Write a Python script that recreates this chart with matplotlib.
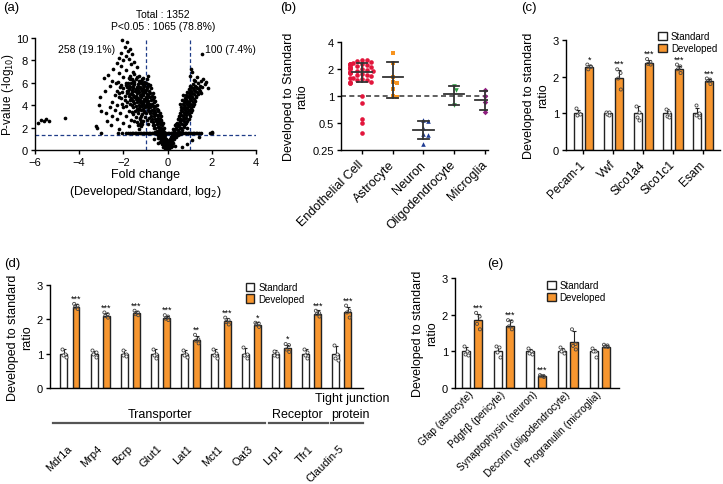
import numpy as np
import matplotlib
matplotlib.use("Agg")
import matplotlib.pyplot as plt
from matplotlib.patches import Patch
import matplotlib.transforms as mtransforms

plt.rcParams['font.family'] = ['Liberation Sans', 'DejaVu Sans']
plt.rcParams['axes.linewidth'] = 1.0
plt.rcParams['xtick.major.width'] = 1.0
plt.rcParams['ytick.major.width'] = 1.0

W, H = 723, 485
ORANGE = '#F7962F'
TICK = 8
LAB = 9

# ---------------- (a) volcano data ----------------
left_far = [(-5.85, 2.45), (-5.75, 2.7), (-5.6, 2.55), (-5.5, 2.75), (-5.35, 2.6), (-4.65, 2.85),
            (-3.25, 2.15), (-3.2, 2.0)]
left_sparse = [(-2.05, 9.85), (-1.85, 9.6), (-1.95, 9.2), (-1.7, 9.0), (-1.8, 8.8), (-2.1, 8.7), (-1.6, 8.6),
               (-1.9, 8.4), (-2.2, 8.2), (-1.75, 8.1), (-2.0, 8.0), (-1.5, 7.9), (-2.3, 7.8), (-1.65, 7.7),
               (-2.1, 7.5), (-1.4, 7.4), (-2.45, 7.2), (-1.9, 7.1), (-1.55, 7.0), (-2.2, 6.9), (-2.7, 6.7),
               (-1.3, 6.6), (-2.0, 6.5), (-2.9, 6.4), (-1.7, 6.3), (-2.5, 6.2), (-1.2, 6.2), (-2.35, 6.0),
               (-1.9, 5.95), (-1.5, 5.9), (-2.1, 5.8), (-1.1, 5.8), (-2.6, 5.7), (-1.75, 5.7), (-1.3, 5.6),
               (-2.0, 5.5), (-1.55, 5.5), (-1.05, 5.4), (-2.85, 5.3), (-1.85, 5.3), (-1.4, 5.2), (-2.2, 5.1),
               (-1.65, 5.0), (-1.15, 5.0), (-3.05, 4.7), (-2.4, 4.9), (-1.95, 4.8), (-1.45, 4.8), (-1.0, 4.7),
               (-2.1, 4.6), (-1.7, 4.5), (-1.25, 4.5), (-2.5, 4.3), (-1.85, 4.3), (-1.5, 4.2), (-1.1, 4.2),
               (-3.1, 4.0), (-2.3, 4.0), (-1.6, 4.0), (-1.2, 3.9), (-2.6, 3.8), (-2.0, 3.8), (-1.4, 3.7),
               (-3.0, 3.5), (-2.4, 3.6), (-1.75, 3.5), (-1.05, 3.5), (-2.8, 3.3), (-2.15, 3.3), (-1.55, 3.2),
               (-2.5, 3.0), (-1.9, 3.0), (-1.2, 3.0), (-2.3, 2.8), (-1.65, 2.7), (-2.75, 2.6), (-1.4, 2.5),
               (-2.0, 2.4), (-1.15, 2.3), (-2.55, 2.2), (-1.75, 2.1), (-1.3, 1.9), (-2.2, 1.9), (-1.1, 2.6),
               (-1.15, 3.2)]
left_blob = [(-1.75, 6.4), (-1.6, 6.3), (-1.45, 6.35), (-1.3, 6.2), (-1.15, 6.3), (-1.05, 6.1),
             (-1.8, 6.0), (-1.65, 5.95), (-1.5, 6.05), (-1.35, 5.9), (-1.2, 5.95), (-1.05, 5.85), (-0.9, 5.9),
             (-1.85, 5.65), (-1.7, 5.6), (-1.55, 5.7), (-1.4, 5.6), (-1.25, 5.65), (-1.1, 5.55), (-0.95, 5.6),
             (-1.8, 5.3), (-1.62, 5.35), (-1.48, 5.25), (-1.32, 5.35), (-1.18, 5.3), (-1.02, 5.2),
             (-1.72, 5.0), (-1.55, 4.95), (-1.4, 5.05), (-1.25, 4.95), (-1.1, 4.9), (-0.95, 5.0),
             (-1.65, 4.65), (-1.5, 4.7), (-1.35, 4.6), (-1.2, 4.7), (-1.05, 4.55),
             (-1.55, 4.35), (-1.4, 4.3), (-1.25, 4.25), (-1.12, 4.35),
             (-1.45, 3.95), (-1.3, 4.0), (-1.15, 3.9), (-1.02, 3.8),
             (-1.35, 3.6), (-1.2, 3.55), (-1.08, 3.4),
             (-1.25, 2.9), (-1.22, 2.6), (-1.24, 2.3), (-1.21, 2.1), (-1.26, 2.75), (-1.2, 2.45)]
left_extra = [(-2.25, 6.1), (-2.15, 5.6), (-2.3, 5.3), (-2.05, 5.2), (-2.2, 4.75), (-1.95, 4.5), (-2.05, 4.15),
              (-1.9, 3.9), (-1.7, 4.15), (-1.58, 3.8), (-1.48, 3.5), (-1.62, 3.35), (-1.35, 3.3), (-1.42, 2.95),
              (-1.5, 2.6), (-1.35, 2.25), (-1.38, 5.45), (-1.22, 5.45), (-1.08, 5.7), (-0.98, 5.35),
              (-1.12, 5.1), (-1.3, 5.15), (-1.45, 5.45), (-1.6, 5.15), (-1.75, 5.45), (-1.9, 5.8),
              (-1.55, 6.15), (-1.25, 6.1), (-1.38, 6.5), (-1.1, 6.45), (-1.68, 6.65), (-1.5, 6.8),
              (-1.02, 4.45), (-0.92, 4.2), (-1.18, 4.1), (-1.32, 4.45), (-1.45, 4.55), (-1.6, 4.5),
              (-1.75, 4.8), (-1.85, 5.05), (-1.05, 4.05), (-0.88, 3.6), (-0.98, 3.3), (-1.12, 3.7),
              (-1.28, 3.75), (-0.75, 2.6), (-0.82, 2.9), (-0.68, 2.2), (-0.62, 1.95), (-0.55, 1.6),
              (-0.48, 1.45), (-0.42, 1.1), (-0.35, 0.75), (-0.27, 0.55), (-0.22, 0.3), (-0.13, 0.15),
              (-0.03, 0.25), (0.0, 0.4), (-0.1, 0.6), (-0.02, 0.7), (-0.05, 0.95), (-0.12, 1.3),
              (-0.15, 1.6), (-0.2, 1.65), (-0.18, 2.0), (-0.22, 2.4), (-0.28, 2.65), (-0.32, 3.0),
              (-0.36, 3.3), (-0.42, 3.6), (-0.48, 4.0), (-0.55, 4.35), (-0.6, 4.7), (-0.68, 5.05),
              (-0.75, 5.5), (-0.8, 5.8), (-0.9, 6.6), (-0.88, 2.35), (-0.95, 2.7), (-1.02, 2.95),
              (-0.78, 3.45), (-0.85, 4.15), (-0.72, 4.0), (-0.62, 3.8), (-0.68, 3.55), (-0.58, 3.2),
              (-0.5, 2.75), (-0.42, 2.45), (-0.38, 2.05), (-0.32, 1.75), (-0.26, 1.4), (-0.2, 1.15),
              (-0.13, 0.95)]
left_arm = [(-0.05, 0.1), (0.02, 0.05), (-0.1, 0.2), (0.05, 0.15),
            (-0.15, 0.4), (-0.08, 0.35), (-0.2, 0.5), (-0.04, 0.45),
            (-0.25, 0.75), (-0.12, 0.7), (-0.18, 0.85), (-0.3, 0.9), (-0.07, 0.8),
            (-0.35, 1.05), (-0.22, 1.0), (-0.14, 1.1), (-0.28, 1.2), (-0.4, 1.25),
            (-0.18, 1.35), (-0.33, 1.4), (-0.45, 1.35), (-0.25, 1.5),
            (-0.5, 1.7), (-0.38, 1.75), (-0.22, 1.8), (-0.3, 1.95), (-0.55, 2.0), (-0.42, 2.05),
            (-0.25, 2.2), (-0.6, 2.25), (-0.48, 2.3), (-0.35, 2.35), (-0.65, 2.5), (-0.3, 2.5), (-0.52, 2.55),
            (-0.4, 2.6), (-0.7, 2.75), (-0.58, 2.8), (-0.35, 2.8), (-0.45, 2.9), (-0.75, 3.0), (-0.62, 3.05),
            (-0.5, 3.1), (-0.4, 3.15), (-0.8, 3.3), (-0.68, 3.3), (-0.55, 3.35), (-0.45, 3.45), (-0.85, 3.5),
            (-0.72, 3.55), (-0.6, 3.6), (-0.5, 3.7), (-0.9, 3.8), (-0.78, 3.85), (-0.65, 3.9), (-0.55, 3.95),
            (-0.95, 4.05), (-0.82, 4.1), (-0.7, 4.15), (-0.6, 4.25), (-1.0, 4.35), (-0.88, 4.4), (-0.75, 4.45),
            (-0.65, 4.55), (-0.95, 4.65), (-0.8, 4.7), (-0.7, 4.85), (-0.9, 4.95), (-0.78, 5.1), (-0.85, 5.3),
            (-0.95, 5.5), (-0.88, 5.75), (-0.98, 6.0), (-0.92, 6.3)]
right_arm = [(0.03, 0.1), (0.08, 0.3), (0.04, 0.5), (0.12, 0.45), (0.18, 0.6), (0.09, 0.7), (0.22, 0.8),
             (0.15, 0.9), (0.3, 0.95), (0.1, 1.0), (0.25, 1.1), (0.38, 1.15), (0.18, 1.25), (0.45, 1.3),
             (0.3, 1.35), (0.55, 1.4), (0.22, 1.45), (0.4, 1.5), (0.62, 1.55), (0.3, 1.7), (0.48, 1.75),
             (0.65, 1.8), (0.25, 1.9), (0.4, 1.95), (0.55, 2.0), (0.75, 2.05), (0.88, 2.0), (0.33, 2.2),
             (0.5, 2.25), (0.65, 2.3), (0.8, 2.3), (0.42, 2.45), (0.58, 2.5), (0.72, 2.55), (0.9, 2.55),
             (0.45, 2.75), (0.6, 2.8), (0.75, 2.85), (0.95, 2.8), (0.52, 3.0), (0.68, 3.05), (0.85, 3.1),
             (1.02, 3.05), (0.55, 3.3), (0.72, 3.3), (0.88, 3.35), (1.05, 3.35), (0.6, 3.55), (0.78, 3.6),
             (0.95, 3.6), (1.12, 3.6), (0.62, 3.85), (0.8, 3.85), (0.98, 3.9), (1.15, 3.9), (0.7, 4.1),
             (0.86, 4.15), (1.02, 4.15), (1.2, 4.1), (0.72, 4.4), (0.9, 4.4), (1.08, 4.45), (1.25, 4.4),
             (0.78, 4.65), (0.95, 4.7), (1.12, 4.7), (1.3, 4.7), (0.82, 4.95), (1.0, 4.95), (1.18, 5.0),
             (1.38, 5.0), (0.88, 5.2), (1.05, 5.25), (1.25, 5.25), (1.45, 5.3), (0.95, 5.45), (1.15, 5.5),
             (1.35, 5.5), (1.02, 5.7), (1.22, 5.75), (1.45, 5.7)]
right_extra = [(0.06, 0.2), (0.14, 0.25), (0.2, 0.4), (0.26, 0.6), (0.06, 0.85), (0.14, 1.15), (0.32, 1.25),
               (0.2, 1.55), (0.5, 1.6), (0.35, 1.85), (0.62, 1.95), (0.45, 2.1), (0.72, 2.2), (0.38, 2.35),
               (0.55, 2.6), (0.82, 2.45), (0.68, 2.7), (0.5, 2.9), (0.85, 2.9), (0.62, 3.15), (0.78, 3.2),
               (0.95, 3.2), (0.65, 3.45), (0.85, 3.5), (1.02, 3.5), (0.7, 3.75), (0.9, 3.75), (1.08, 3.75),
               (0.75, 4.0), (0.93, 4.0), (1.12, 4.0), (0.8, 4.28), (0.98, 4.28), (1.15, 4.3), (0.85, 4.55),
               (1.02, 4.55), (1.2, 4.55), (0.9, 4.82), (1.08, 4.85), (1.28, 4.85), (0.95, 5.1), (1.12, 5.12),
               (1.32, 5.15), (1.0, 5.35), (1.2, 5.4), (1.42, 5.45), (1.08, 5.6), (1.3, 5.62), (1.15, 5.9),
               (1.38, 5.95), (1.25, 6.15), (0.98, 4.0), (1.5, 5.1), (1.55, 5.6), (0.58, 4.1), (0.65, 4.5),
               (0.7, 4.9)]
right_sparse = [(1.55, 8.6), (1.05, 7.2), (1.1, 6.95), (1.0, 6.6), (1.35, 6.5), (1.6, 6.35), (1.75, 6.05),
                (1.85, 5.55), (1.5, 6.15), (1.2, 6.25), (1.7, 5.85), (1.9, 1.55), (2.02, 1.5), (2.0, 1.6),
                (0.9, 0.5), (0.65, 0.3), (1.1, 0.9), (-0.45, 0.6), (-0.6, 1.0), (1.4, 1.2), (0.35, 0.4)]
floor_y = 1.55
floor_x = [-3.0, -2.25, -2.05, -1.9, -1.8, -1.7, -1.62, -1.55, -1.48, -1.41, -1.34, -1.27, -1.2, -1.13,
           -1.06, -0.99, -0.92, -0.85, -0.78, -0.71, -0.64, -0.57, -0.5, -0.43, -0.36, -0.29, -0.22, -0.15,
           -0.08, 0.0, 0.08, 0.15, 0.22, 0.29, 0.36, 0.43, 0.5, 0.57, 0.64, 0.71, 0.78, 0.85, 0.92, 0.99,
           1.06, 1.13, 1.2, 1.27, 1.34, 1.42, 1.5]

# ---------------- (b) cell type ratios ----------------
cell_types = ['Endothelial Cell', 'Astrocyte', 'Neuron', 'Oligodendrocyte', 'Microglia']
endo_vals = [2.55, 2.45, 2.4, 2.35, 2.3, 2.3, 2.25, 2.2, 2.2, 2.15, 2.1, 2.1, 2.05, 2.0, 2.0, 1.95, 1.9,
             1.9, 1.85, 1.8, 1.8, 1.75, 1.7, 1.7, 1.65, 1.6, 1.6, 1.55, 1.5, 1.5, 1.45, 1.45, 1.4, 1.4,
             2.5, 2.25, 2.05, 1.85, 1.0, 0.83, 0.56, 0.5, 0.39]
astro_vals = [3.0, 2.35, 1.62, 1.42, 1.4, 1.2, 1.0, 0.98]
neuron_vals = [0.54, 0.53, 0.44, 0.38, 0.37, 0.29]
oligo_vals = [1.3, 1.17, 0.8]
micro_vals = [1.17, 1.0, 0.85, 0.66]
cell_mean = [1.87, 1.64, 0.42, 1.05, 0.91]
cell_low = [1.42, 0.94, 0.33, 0.8, 0.7]
cell_high = [2.35, 2.37, 0.52, 1.3, 1.13]

# ---------------- (c) endothelial markers ----------------
c_genes = ['Pecam-1', 'Vwf', 'Slco1a4', 'Slco1c1', 'Esam']
c_std_mean = [1.0, 1.0, 1.0, 1.0, 1.0]
c_std_sd = [0.1, 0.04, 0.2, 0.12, 0.15]
c_dev_mean = [2.27, 1.97, 2.38, 2.2, 1.88]
c_dev_sd = [0.06, 0.22, 0.07, 0.1, 0.05]
c_std_pts = [[1.15, 1.0, 0.95, 0.97], [1.05, 1.03, 0.98, 0.95], [1.2, 1.05, 0.9, 0.82],
             [1.13, 1.05, 0.92, 0.9], [1.22, 1.02, 0.95, 0.9]]
c_dev_pts = [[2.33, 2.28, 2.2, 2.27], [2.2, 2.1, 1.95, 1.65], [2.48, 2.4, 2.35, 2.33],
             [2.33, 2.28, 2.2, 2.1], [1.95, 1.92, 1.88, 1.8]]
c_stars = ['*', '***', '***', '***', '***']

# ---------------- (d) transporters etc ----------------
d_genes = ['Mdr1a', 'Mrp4', 'Bcrp', 'Glut1', 'Lat1', 'Mct1', 'Oat3', 'Lrp1', 'Tfr1', 'Claudin-5']
d_std_mean = [1.0] * 10
d_std_sd = [0.13, 0.08, 0.12, 0.15, 0.12, 0.13, 0.17, 0.1, 0.15, 0.22]
d_dev_mean = [2.37, 2.1, 2.18, 2.05, 1.4, 1.95, 1.84, 1.17, 2.16, 2.22]
d_dev_sd = [0.08, 0.07, 0.05, 0.06, 0.12, 0.08, 0.07, 0.08, 0.1, 0.15]
d_std_pts = [[1.15, 1.0, 0.95, 0.9], [1.1, 1.05, 0.98, 0.9], [1.12, 1.0, 0.97, 0.92], [1.15, 1.0, 0.95, 0.88],
             [1.12, 1.0, 0.95, 0.9], [1.15, 1.02, 0.95, 0.88], [1.18, 1.0, 0.95, 0.88], [1.08, 1.02, 0.97, 0.93],
             [1.15, 1.05, 0.95, 0.87], [1.25, 1.0, 0.88, 0.82]]
d_dev_pts = [[2.45, 2.4, 2.35, 2.3], [2.2, 2.15, 2.1, 2.05], [2.25, 2.2, 2.15, 2.12], [2.12, 2.08, 2.02, 1.98],
             [1.55, 1.42, 1.38, 1.3], [2.05, 1.98, 1.92, 1.85], [1.9, 1.88, 1.85, 1.78], [1.28, 1.25, 1.12, 1.05],
             [2.25, 2.18, 2.15, 2.08], [2.4, 2.25, 2.2, 2.05]]
d_stars = ['***', '***', '***', '***', '**', '***', '*', '*', '***', '***']
# group name, text centre, line start, line end
d_groups = [('Transporter', 2.98, -0.56, 6.46), ('Receptor', 7.52, 6.59, 8.54), ('protein', 9.27, 8.64, 9.7)]
d_group_top = ('Tight junction', 9.34)

# ---------------- (e) cell markers ----------------
e_genes = ['Gfap (astrocyte)', 'Pdgfr\u03b2 (pericyte)', 'Synaptophysin (neuron)',
           'Decorin (oligodendrocyte)', 'Progranulin (microglia)']
e_std_mean = [1.0] * 5
e_std_sd = [0.12, 0.12, 0.06, 0.1, 0.07]
e_dev_mean = [1.85, 1.7, 0.32, 1.25, 1.12]
e_dev_sd = [0.17, 0.15, 0.03, 0.3, 0.04]
e_std_pts = [[1.15, 1.0, 0.92, 0.9], [1.15, 1.12, 0.97, 0.85], [1.1, 1.0, 0.95, 0.93],
             [1.12, 1.05, 1.0, 0.95], [1.08, 1.02, 1.0, 0.85]]
e_dev_pts = [[2.05, 1.95, 1.75, 1.6], [1.85, 1.82, 1.68, 1.6], [0.35, 0.33, 0.32, 0.3],
             [1.6, 1.2, 1.15, 1.05], [1.18, 1.16, 1.13, 1.12]]
e_stars = ['***', '***', '***', '', '']


fig = plt.figure(figsize=(W / 100, H / 100), dpi=100)


def px_axes(l, t, r, b):
    return fig.add_axes([l / W, 1 - b / H, (r - l) / W, (b - t) / H])


def clean(ax):
    ax.spines['top'].set_visible(False)
    ax.spines['right'].set_visible(False)
    ax.tick_params(labelsize=TICK, length=3, pad=2)


def bar_panel(ax, std_mean, std_sd, dev_mean, dev_sd, std_pts, dev_pts, stars, off, width):
    n = len(std_mean)
    x = np.arange(n)
    jit = [-0.06, 0.05, -0.03, 0.06]
    ax.bar(x - off, std_mean, width, color='white', edgecolor='#222222', linewidth=1.0, zorder=2)
    ax.bar(x + off, dev_mean, width, color=ORANGE, edgecolor='#222222', linewidth=1.0, zorder=2)
    ax.errorbar(x - off, std_mean, yerr=[[0] * n, std_sd], fmt='none', ecolor='#222222',
                elinewidth=0.8, capsize=1.5, capthick=0.8, zorder=3)
    ax.errorbar(x + off, dev_mean, yerr=[[0] * n, dev_sd], fmt='none', ecolor='#222222',
                elinewidth=0.8, capsize=1.5, capthick=0.8, zorder=3)
    for i in range(n):
        ax.scatter([x[i] - off + j for j in jit], std_pts[i], s=5, facecolor='white',
                   edgecolor='#444444', linewidth=0.6, zorder=4)
        ax.scatter([x[i] + off + j for j in jit], dev_pts[i], s=5, facecolor='none',
                   edgecolor='#444444', linewidth=0.6, zorder=4)
        top = max(dev_mean[i] + dev_sd[i], max(dev_pts[i]))
        if stars[i]:
            ax.text(x[i] + off, top + 0.03, stars[i], ha='center', va='bottom', fontsize=6.5)
    ax.set_ylim(0, 3)
    ax.set_yticks([0, 1, 2, 3])
    clean(ax)
    return x


def add_legend(ax, bx, by):
    handles = [Patch(facecolor='white', edgecolor='#222222', label='Standard'),
               Patch(facecolor=ORANGE, edgecolor='#222222', label='Developed')]
    ax.legend(handles=handles, loc='upper left', bbox_to_anchor=(bx, by), frameon=False, fontsize=7,
              handlelength=0.9, handleheight=0.9, handletextpad=0.4, labelspacing=0.2, borderaxespad=0,
              borderpad=0)


# ---------------- draw (a) ----------------
axa = px_axes(35, 39, 256, 151)
pts = left_far + left_sparse + left_blob + left_extra + left_arm + right_arm + right_extra + right_sparse
axa.scatter([p[0] for p in pts], [p[1] for p in pts], s=7, color='black', linewidths=0, zorder=3)
axa.scatter(floor_x, [floor_y] * len(floor_x), s=7, color='black', linewidths=0, zorder=3)
axa.plot([-1.62, 1.5], [floor_y, floor_y], color='black', lw=1.8, zorder=3)
axa.axhline(1.3, color='#1F3C88', ls=(0, (3, 2)), lw=0.9, zorder=2)
axa.axvline(-1, color='#1F3C88', ls=(0, (3, 2)), lw=0.9, zorder=2)
axa.axvline(1, color='#1F3C88', ls=(0, (3, 2)), lw=0.9, zorder=2)
axa.set_xlim(-6, 4)
axa.set_ylim(0, 10)
axa.set_xticks([-6, -4, -2, 0, 2, 4])
axa.set_yticks([0, 2, 4, 6, 8, 10])
clean(axa)
axa.set_xlabel('Fold change\n(Developed/Standard, log$_2$)', fontsize=LAB, labelpad=1)
axa.set_ylabel('P-value (-log$_{10}$)', fontsize=8.5)
axa.yaxis.set_label_coords(-0.085, 0.5)
axa.text(-3.68, 9.0, '258 (19.1%)', ha='center', va='center', fontsize=7.5)
axa.text(1.68, 9.0, '100 (7.4%)', ha='left', va='center', fontsize=7.5)
fig.text(163 / W, 1 - 15 / H, 'Total : 1352', ha='center', va='center', fontsize=7.5)
fig.text(163 / W, 1 - 27 / H, 'P<0.05 : 1065 (78.8%)', ha='center', va='center', fontsize=7.5)

# ---------------- draw (b) ----------------
axb = px_axes(341, 43, 488, 151)
axb.set_yscale('log', base=2)
axb.set_ylim(0.25, 4)
axb.set_xlim(-0.68, 4.1)
xu, yu = 30.7, 27.0  # px per x unit and per log2 unit


def swarm(vals, d=4.2):
    order = np.argsort(vals)[::-1]
    placed = []
    offs = np.zeros(len(vals))
    for i in order:
        yy = np.log2(vals[i]) * yu
        for k in [0, 1, -1, 2, -2, 3, -3, 4, -4, 5, -5]:
            xx = k * d * 0.55
            if all((xx - px) ** 2 + (yy - py) ** 2 >= d * d for px, py in placed):
                break
        placed.append((xx, yy))
        offs[i] = xx / xu
    return offs


groups_b = [endo_vals, astro_vals, neuron_vals, oligo_vals, micro_vals]
colors_b = ['#E2163C', '#F7931E', '#1F3C93', '#2E9E41', '#8E1F7E']
markers_b = ['o', 's', '^', 'v', 'D']
sizes_b = [11, 11, 11, 11, 8]
for i, vals in enumerate(groups_b):
    off = swarm(vals)
    axb.scatter(i + off, vals, s=sizes_b[i], marker=markers_b[i], color=colors_b[i], linewidths=0, zorder=3)
    axb.plot([i - 0.33, i + 0.33], [cell_mean[i]] * 2, color='#333333', lw=1.3, zorder=4)
    axb.plot([i, i], [cell_low[i], cell_high[i]], color='#333333', lw=1.3, zorder=4)
    axb.plot([i - 0.17, i + 0.17], [cell_low[i]] * 2, color='#333333', lw=1.3, zorder=4)
    axb.plot([i - 0.17, i + 0.17], [cell_high[i]] * 2, color='#333333', lw=1.3, zorder=4)
axb.axhline(1, color='#444444', ls=(0, (3, 2)), lw=1.2, zorder=2)
axb.set_yticks([0.25, 0.5, 1, 2, 4])
axb.set_yticklabels(['0.25', '0.5', '1', '2', '4'])
axb.minorticks_off()
axb.set_xticks(range(5))
clean(axb)
axb.set_xticklabels(cell_types, rotation=45, ha='right', va='center', rotation_mode='anchor', fontsize=9)
axb.tick_params(axis='x', pad=6)
axb.set_ylabel('Developed to Standard\nratio', fontsize=LAB, labelpad=3)

# ---------------- draw (c) ----------------
axc = px_axes(566, 41, 720, 151)
xc = bar_panel(axc, c_std_mean, c_std_sd, c_dev_mean, c_dev_sd, c_std_pts, c_dev_pts, c_stars, 0.19, 0.27)
axc.set_xlim(-0.585, 4.57)
axc.set_xticks(xc)
axc.set_xticklabels(c_genes, rotation=45, ha='right', va='center', rotation_mode='anchor', fontsize=8.5)
axc.tick_params(axis='x', pad=6)
axc.set_ylabel('Developed to standard\nratio', fontsize=LAB, labelpad=3)
add_legend(axc, 0.6, 1.08)

# ---------------- draw (d) ----------------
axd = px_axes(50, 286, 363, 389)
xd = bar_panel(axd, d_std_mean, d_std_sd, d_dev_mean, d_dev_sd, d_std_pts, d_dev_pts, d_stars, 0.2, 0.23)
axd.set_xlim(-0.66, 9.7)
axd.set_xticks(xd)
axd.set_xticklabels(d_genes, rotation=45, ha='right', va='center', rotation_mode='anchor', fontsize=8)
axd.tick_params(axis='x', length=0, pad=42)
axd.set_ylabel('Developed to standard\nratio', fontsize=LAB, labelpad=3)
add_legend(axd, 0.625, 1.03)
trans = mtransforms.blended_transform_factory(axd.transData, axd.transAxes)
for name, xt, x0, x1 in d_groups:
    axd.plot([x0, x1], [-0.34, -0.34], transform=trans, color='#555555', lw=1.6, clip_on=False)
    axd.text(xt, -0.255, name, transform=trans, ha='center', va='center', fontsize=LAB)
axd.text(d_group_top[1], -0.095, d_group_top[0], transform=trans, ha='center', va='center', fontsize=LAB)

# ---------------- draw (e) ----------------
axe = px_axes(455, 279, 619, 389)
xe = bar_panel(axe, e_std_mean, e_std_sd, e_dev_mean, e_dev_sd, e_std_pts, e_dev_pts, e_stars, 0.19, 0.25)
axe.set_xlim(-0.53, 4.6)
axe.set_xticks(xe)
axe.set_xticklabels(e_genes, rotation=45, ha='right', va='center', rotation_mode='anchor', fontsize=7.3)
axe.tick_params(axis='x', length=0, pad=3)
axe.set_ylabel('Developed to standard\nratio', fontsize=LAB, labelpad=3)
add_legend(axe, 0.56, 0.98)

# panel letters
for lab, x, y in [('(a)', 3, 8), ('(b)', 280, 8), ('(c)', 521, 8), ('(d)', 4, 264), ('(e)', 487, 264)]:
    fig.text(x / W, 1 - y / H, lab, ha='left', va='center', fontsize=9.5)

fig.savefig('out.png', dpi=100)
